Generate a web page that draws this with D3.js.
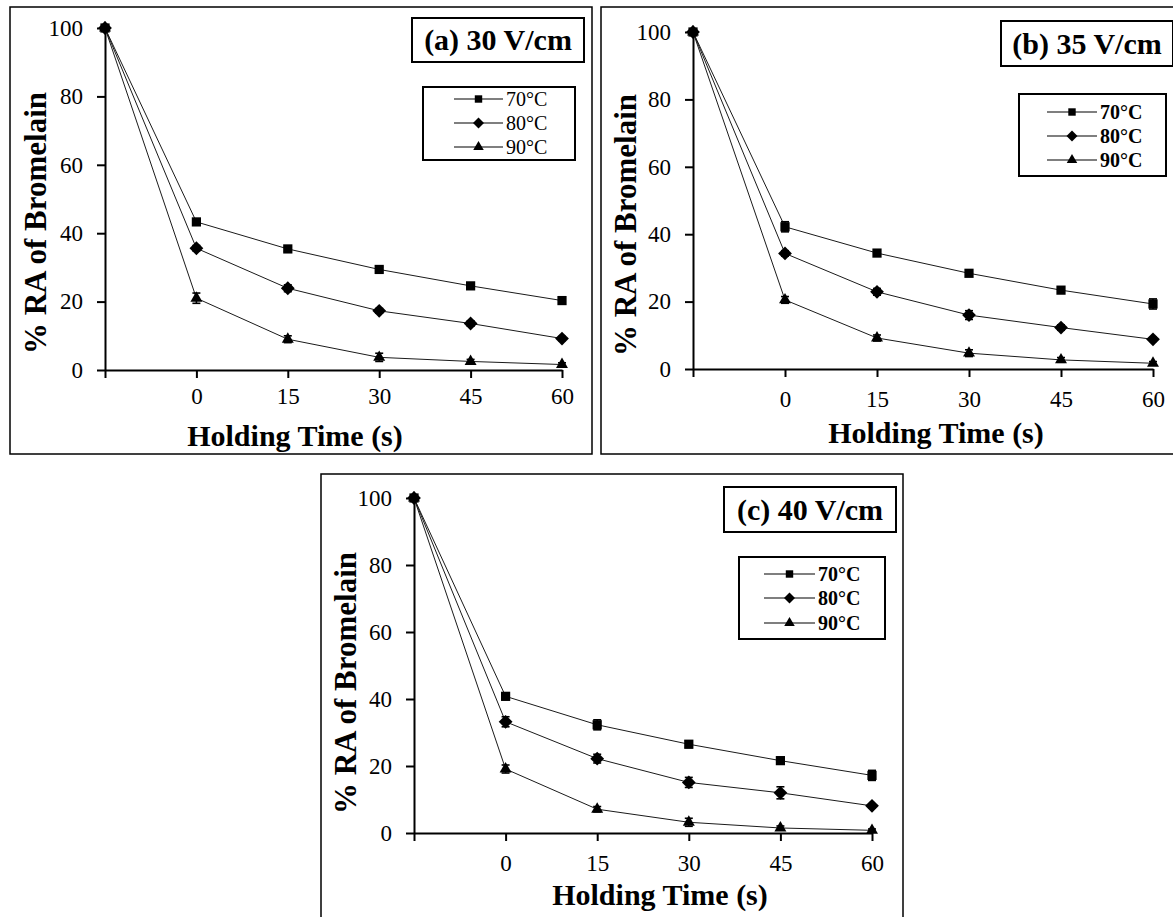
<!DOCTYPE html>
<html>
<head>
<meta charset="utf-8">
<script src="https://cdn.jsdelivr.net/npm/d3@7"></script>
<style>
  body { margin: 0; background: #fff; }
  svg { display: block; }
  svg text { font-family: "Liberation Serif", "Times New Roman", Tinos, "DejaVu Serif", serif; fill: #000; }
</style>
</head>
<body>
<svg id="chart" width="1173" height="917"></svg>
<script>
// categories: first one is the untreated sample (no label), then holding times
const categories = ['', '0', '15', '30', '45', '60'];
const seriesNames = ['70°C', '80°C', '90°C'];
const panelTitles = ['(a) 30 V/cm', '(b) 35 V/cm', '(c) 40 V/cm'];
const yTicks = [0, 20, 40, 60, 80, 100];

// (a) 30 V/cm
const a70 = [100, 43.3, 35.4, 29.4, 24.6, 20.3];
const a80 = [100, 35.6, 23.9, 17.3, 13.6, 9.2];
const a90 = [100, 21.0, 9.0, 3.7, 2.5, 1.6];
const a70err = [0, 0.8, 0.7, 0.7, 0.6, 0.6];
const a80err = [0, 0.8, 1.0, 0.7, 0.8, 0.6];
const a90err = [0, 1.5, 1.0, 1.2, 0.6, 0.5];

// (b) 35 V/cm
const b70 = [100, 42.2, 34.4, 28.4, 23.4, 19.3];
const b80 = [100, 34.3, 22.9, 16.0, 12.3, 8.8];
const b90 = [100, 20.5, 9.2, 4.7, 2.7, 1.7];
const b70err = [0, 1.5, 0.8, 0.7, 0.9, 1.5];
const b80err = [0, 0.8, 1.0, 1.3, 0.8, 0.6];
const b90err = [0, 1.0, 0.9, 1.0, 0.7, 0.5];

// (c) 40 V/cm
const c70 = [100, 40.8, 32.3, 26.5, 21.6, 17.2];
const c80 = [100, 33.2, 22.2, 15.1, 12.0, 8.1];
const c90 = [100, 19.1, 7.1, 3.2, 1.5, 0.8];
const c70err = [0, 1.0, 1.5, 1.0, 1.0, 1.5];
const c80err = [0, 1.5, 1.3, 1.5, 1.8, 0.6];
const c90err = [0, 1.2, 0.8, 1.2, 0.6, 0.4];

const font = 'Liberation Serif, Times New Roman, Tinos, DejaVu Serif, serif';
const svg = d3.select('#chart').attr('font-family', font);

const panels = [
  {
    title: panelTitles[0], series: [a70, a80, a90], errors: [a70err, a80err, a90err],
    box: { x: 10, y: 7, w: 582, h: 447 },
    x0: 105, x1: 562, yTop: 28, yBot: 370,
    titleBox: { x: 412, y: 18, w: 172, h: 44, base: 50 },
    legend: { x: 423, y: 87, w: 152, h: 73, rows: [99, 123, 147], lineX: [454, 503], textX: 506, bold: false },
    yTitle: { x: 35, y: 223 }, xTitle: { x: 295, base: 446 }, tickBase: 404,
  },
  {
    title: panelTitles[1], series: [b70, b80, b90], errors: [b70err, b80err, b90err],
    box: { x: 601, y: 7, w: 582, h: 447 },
    x0: 693, x1: 1153, yTop: 32, yBot: 369,
    titleBox: { x: 1001, y: 21, w: 172, h: 45, base: 54 },
    legend: { x: 1019, y: 94, w: 147, h: 82, rows: [112, 136, 160], lineX: [1047, 1097], textX: 1100, bold: true },
    yTitle: { x: 625, y: 225 }, xTitle: { x: 936, base: 443 }, tickBase: 407,
  },
  {
    title: panelTitles[2], series: [c70, c80, c90], errors: [c70err, c80err, c90err],
    box: { x: 321, y: 474, w: 582, h: 460 },
    x0: 414, x1: 872, yTop: 498, yBot: 833,
    titleBox: { x: 724, y: 487, w: 172, h: 45, base: 520 },
    legend: { x: 739, y: 557, w: 146, h: 82, rows: [574, 598, 623], lineX: [764, 815], textX: 818, bold: true },
    yTitle: { x: 345, y: 683 }, xTitle: { x: 660, base: 905 }, tickBase: 871,
  },
];

const diamond = {
  draw(ctx, size) {
    const r = Math.sqrt(size / 2);
    ctx.moveTo(0, -r); ctx.lineTo(r, 0); ctx.lineTo(0, r); ctx.lineTo(-r, 0); ctx.closePath();
  }
};
const symbolTypes = [d3.symbolSquare, diamond, d3.symbolTriangle];
const symbolSizes = [85, 95, 62];
const legendSizes = [55, 60, 48];

function drawPanel(p) {
  const g = svg.append('g');

  g.append('rect')
    .attr('x', p.box.x).attr('y', p.box.y)
    .attr('width', p.box.w).attr('height', p.box.h)
    .attr('fill', '#fff').attr('stroke', '#000').attr('stroke-width', 1.5);

  const x = d3.scalePoint().domain(categories).range([p.x0, p.x1]);
  const y = d3.scaleLinear().domain([0, 100]).range([p.yBot, p.yTop]);

  // axes
  const yAxis = g.append('g')
    .attr('transform', `translate(${p.x0},0)`)
    .call(d3.axisLeft(y).tickValues(yTicks).tickSize(8).tickSizeOuter(0).tickPadding(14));
  yAxis.attr('font-family', font).attr('font-size', 23);
  yAxis.selectAll('text').attr('fill', '#111');

  const xAxis = g.append('g')
    .attr('transform', `translate(0,${p.yBot})`)
    .call(d3.axisBottom(x).tickSize(8).tickSizeOuter(0));
  xAxis.attr('font-family', font).attr('font-size', 23);
  xAxis.selectAll('text').attr('dy', 0).attr('y', p.tickBase - p.yBot).attr('fill', '#111');

  g.selectAll('.domain, .tick line').attr('stroke', '#000').attr('stroke-width', 2);

  // axis titles
  g.append('text')
    .attr('x', p.xTitle.x).attr('y', p.xTitle.base)
    .attr('text-anchor', 'middle')
    .attr('font-size', 30).attr('font-weight', 'bold')
    .text('Holding Time (s)');

  g.append('text')
    .attr('transform', `translate(${p.yTitle.x},${p.yTitle.y}) rotate(-90)`)
    .attr('text-anchor', 'middle').attr('dy', '0.35em')
    .attr('font-size', 31).attr('font-weight', 'bold')
    .text('% RA of Bromelain');

  const line = d3.line().x((d, i) => x(categories[i])).y(d => y(d));

  p.series.forEach((vals) => {
    g.append('path')
      .datum(vals)
      .attr('d', line)
      .attr('fill', 'none')
      .attr('stroke', '#1a1a1a')
      .attr('stroke-width', 1);
  });

  p.series.forEach((vals, s) => {
    const err = p.errors[s];
    const eb = g.append('g').attr('stroke', '#000').attr('stroke-width', 1.6);
    vals.forEach((v, i) => {
      if (!err[i]) return;
      const cx = x(categories[i]);
      eb.append('line').attr('x1', cx).attr('x2', cx)
        .attr('y1', y(v - err[i])).attr('y2', y(v + err[i]));
      eb.append('line').attr('x1', cx - 4).attr('x2', cx + 4)
        .attr('y1', y(v - err[i])).attr('y2', y(v - err[i]));
      eb.append('line').attr('x1', cx - 4).attr('x2', cx + 4)
        .attr('y1', y(v + err[i])).attr('y2', y(v + err[i]));
    });

    g.selectAll(null)
      .data(vals)
      .enter()
      .append('path')
      .attr('transform', (d, i) => `translate(${x(categories[i])},${y(d)})`)
      .attr('d', d3.symbol().type(symbolTypes[s]).size(symbolSizes[s]))
      .attr('fill', '#000');
  });

  // title box
  g.append('rect')
    .attr('x', p.titleBox.x).attr('y', p.titleBox.y)
    .attr('width', p.titleBox.w).attr('height', p.titleBox.h)
    .attr('fill', '#fff').attr('stroke', '#000').attr('stroke-width', 2);
  g.append('text')
    .attr('x', p.titleBox.x + p.titleBox.w / 2).attr('y', p.titleBox.base)
    .attr('text-anchor', 'middle')
    .attr('font-size', 30).attr('font-weight', 'bold')
    .text(p.title);

  // legend
  const L = p.legend;
  g.append('rect')
    .attr('x', L.x).attr('y', L.y).attr('width', L.w).attr('height', L.h)
    .attr('fill', '#fff').attr('stroke', '#000').attr('stroke-width', 2);

  seriesNames.forEach((name, s) => {
    const ry = L.rows[s];
    const mx = (L.lineX[0] + L.lineX[1]) / 2;
    g.append('line')
      .attr('x1', L.lineX[0]).attr('x2', L.lineX[1])
      .attr('y1', ry).attr('y2', ry)
      .attr('stroke', '#000').attr('stroke-width', 1.2);
    g.append('path')
      .attr('transform', `translate(${mx},${ry})`)
      .attr('d', d3.symbol().type(symbolTypes[s]).size(legendSizes[s]))
      .attr('fill', '#000');
    g.append('text')
      .attr('x', L.textX).attr('y', ry).attr('dy', '0.35em')
      .attr('font-size', 20)
      .attr('font-weight', L.bold ? 'bold' : 'normal')
      .text(name);
  });
}

panels.forEach(drawPanel);
</script>
</body>
</html>
